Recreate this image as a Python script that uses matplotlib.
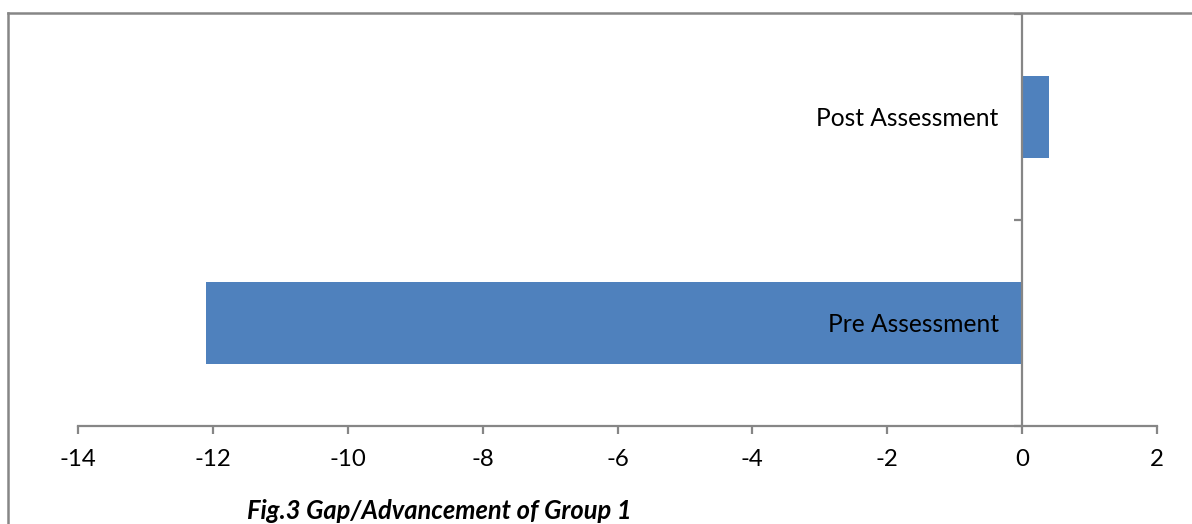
import matplotlib
matplotlib.use("Agg")
import matplotlib.pyplot as plt
from matplotlib.lines import Line2D

categories = ["Pre Assessment", "Post Assessment"]
values = [-12.1, 0.4]
x_ticks = [-14, -12, -10, -8, -6, -4, -2, 0, 2]
caption = "Fig.3 Gap/Advancement of Group 1"

BAR_COLOR = "#4F81BD"
AXIS_COLOR = "#868686"

plt.rcParams["font.family"] = ["Lato", "DejaVu Sans"]

fig = plt.figure(figsize=(11.92, 5.24), dpi=100)
ax = fig.add_axes([78 / 1192, 1 - 426 / 524, 1079 / 1192, 412 / 524])

pos = list(range(len(categories)))
ax.barh(pos, values, height=0.4, color=BAR_COLOR, edgecolor="none", zorder=2)
ax.set_axisbelow(False)

ax.set_xlim(x_ticks[0], x_ticks[-1])
ax.set_ylim(-0.5, len(categories) - 0.5)

# spines: horizontal axis at the bottom, vertical axis through zero
for s in ("top", "right"):
    ax.spines[s].set_visible(False)
ax.spines["left"].set_position(("data", 0))
for s in ("left", "bottom"):
    ax.spines[s].set_color(AXIS_COLOR)
    ax.spines[s].set_linewidth(1.6)
    ax.spines[s].set_zorder(3)

ax.set_xticks(x_ticks)
ax.set_xticklabels([str(t) for t in x_ticks])
ax.tick_params(axis="x", direction="out", length=5.5, width=1.6,
               color=AXIS_COLOR, labelsize=17.3, pad=11, labelcolor="black")

ax.set_yticks(pos)
ax.set_yticklabels(categories)
ax.set_yticks([p - 0.5 for p in range(len(categories) + 1)], minor=True)
ax.tick_params(axis="y", which="major", length=0, pad=17, labelsize=17.7,
               labelcolor="black")
ax.tick_params(axis="y", which="minor", direction="out", length=6,
               width=1.6, color=AXIS_COLOR)

# chart frame (top and left edges)
fig.add_artist(Line2D([8 / 1192, 1.0], [1 - 13 / 524] * 2,
                      transform=fig.transFigure, color=AXIS_COLOR, lw=1.8))
fig.add_artist(Line2D([8 / 1192] * 2, [0.0, 1 - 13 / 524],
                      transform=fig.transFigure, color=AXIS_COLOR, lw=1.8))

fig.text(247 / 1192, 1 - 519 / 524, caption, fontsize=18.4,
         fontweight="bold", fontstyle="italic", va="baseline", ha="left")

fig.savefig("out.png", dpi=100)
